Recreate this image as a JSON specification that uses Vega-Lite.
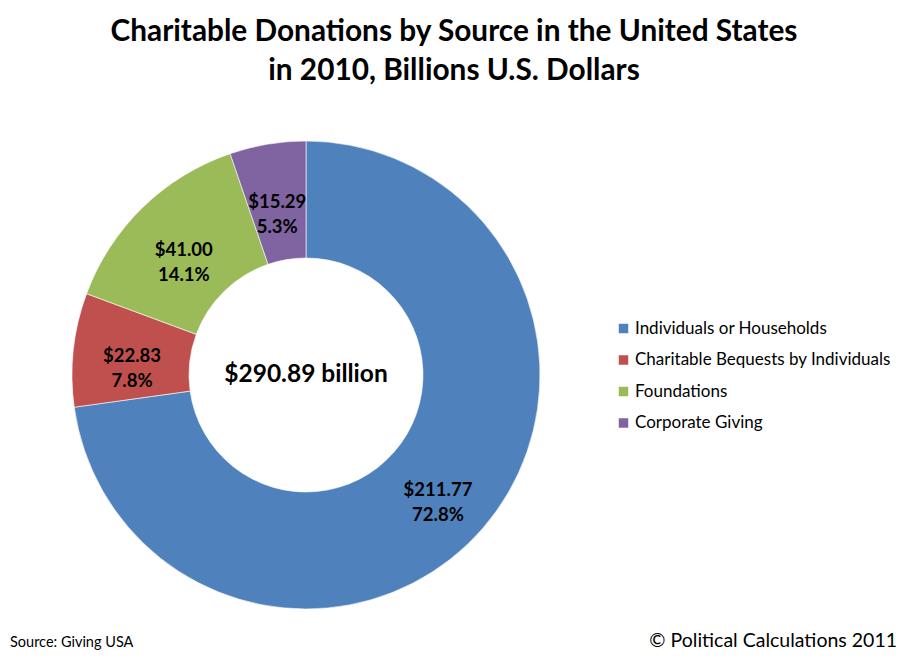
{
  "$schema": "https://vega.github.io/schema/vega-lite/v6.json",
  "description": "Charitable donations by source in the United States, 2010",
  "autosize": {"type": "none"},
  "padding": {"left": 0, "top": 100, "right": 296, "bottom": 11},
  "width": 612,
  "height": 550,
  "background": "white",
  "config": {
    "font": "Lato",
    "view": {"stroke": null}
  },
  "title": {
    "text": ["Charitable Donations by Source in the United States", "in 2010, Billions U.S. Dollars"],
    "font": "Lato",
    "fontSize": 29.8,
    "fontWeight": "bold",
    "lineHeight": 39,
    "color": "black",
    "anchor": "middle",
    "frame": "group",
    "dx": 148,
    "offset": 14
  },
  "data": {
    "values": [
      {"source": "Individuals or Households", "value": 211.77, "order": 1},
      {"source": "Charitable Bequests by Individuals", "value": 22.83, "order": 2},
      {"source": "Foundations", "value": 41.00, "order": 3},
      {"source": "Corporate Giving", "value": 15.29, "order": 4}
    ]
  },
  "transform": [
    {"joinaggregate": [{"op": "sum", "field": "value", "as": "total"}]},
    {"calculate": "['$' + format(datum.value, '.2f'), format(datum.value / datum.total, '.1%')]", "as": "label"}
  ],
  "encoding": {
    "theta": {"field": "value", "type": "quantitative", "stack": true},
    "order": {"field": "order", "type": "quantitative"}
  },
  "layer": [
    {
      "mark": {"type": "arc", "radius": 234, "innerRadius": 117, "stroke": "white", "strokeWidth": 0.6},
      "encoding": {
        "color": {
          "field": "source",
          "type": "nominal",
          "sort": ["Individuals or Households", "Charitable Bequests by Individuals", "Foundations", "Corporate Giving"],
          "scale": {
            "domain": ["Individuals or Households", "Charitable Bequests by Individuals", "Foundations", "Corporate Giving"],
            "range": ["#4F81BD", "#C0504D", "#9BBB59", "#8064A2"]
          },
          "legend": {
            "title": null,
            "orient": "none",
            "legendX": 615,
            "legendY": 220,
            "symbolType": "square",
            "symbolSize": 90,
            "symbolStrokeWidth": 0,
            "labelFont": "Lato",
            "labelFontSize": 17,
            "labelColor": "black",
            "labelOffset": 3,
            "rowPadding": 13.5,
            "labelLimit": 400
          }
        }
      }
    },
    {
      "mark": {"type": "text", "radius": 175, "font": "Lato", "fontSize": 18.5, "fontWeight": "bold", "color": "black", "lineHeight": 25, "align": "center", "baseline": "middle"},
      "encoding": {
        "text": {"field": "label"}
      }
    },
    {
      "data": {"values": [{"total": "$290.89 billion"}]},
      "mark": {"type": "text", "font": "Lato", "fontSize": 24.5, "fontWeight": "bold", "color": "black", "align": "center", "baseline": "middle"},
      "encoding": {
        "text": {"field": "total"},
        "theta": null,
        "order": null
      }
    },
    {
      "data": {"values": [{"note": "Source: Giving USA"}]},
      "mark": {"type": "text", "font": "Lato", "fontSize": 14.5, "color": "black", "align": "left", "baseline": "middle"},
      "encoding": {
        "text": {"field": "note"},
        "x": {"value": 10},
        "y": {"value": 543},
        "theta": null,
        "order": null
      }
    },
    {
      "data": {"values": [{"note": "© Political Calculations 2011"}]},
      "mark": {"type": "text", "font": "Lato", "fontSize": 19.5, "color": "black", "align": "right", "baseline": "middle"},
      "encoding": {
        "text": {"field": "note"},
        "x": {"value": 897},
        "y": {"value": 541},
        "theta": null,
        "order": null
      }
    }
  ]
}
